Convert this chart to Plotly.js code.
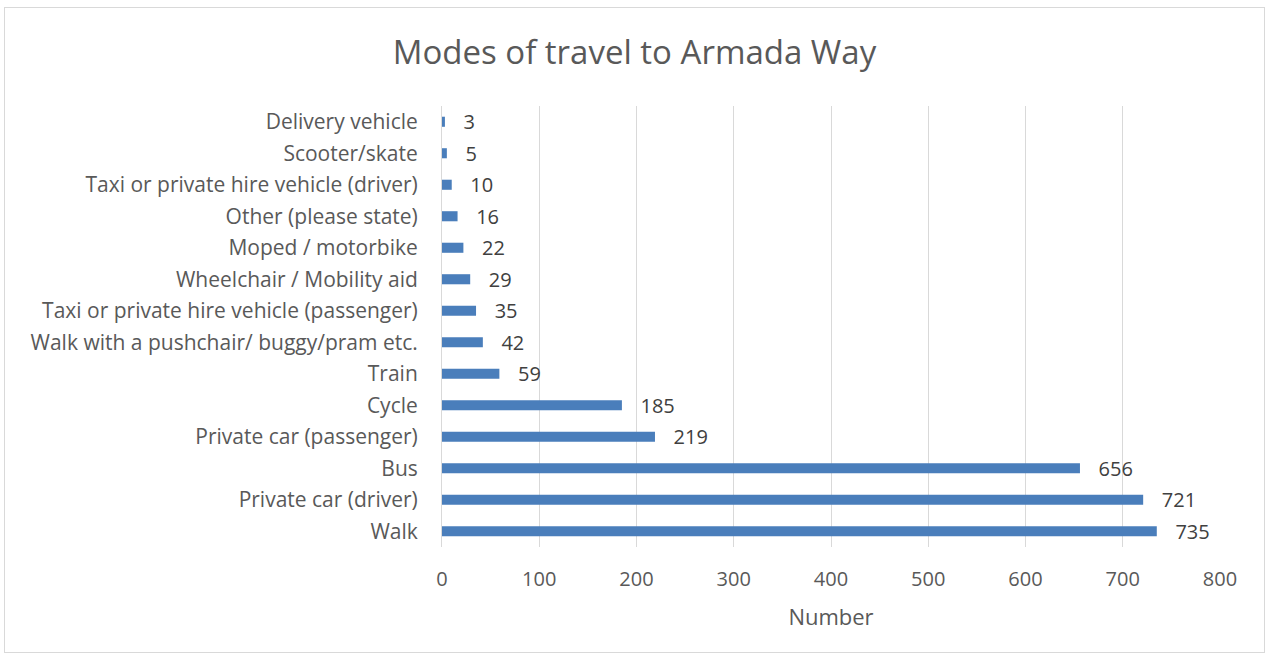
<!DOCTYPE html>
<html>
<head>
<meta charset="utf-8">
<script src="https://cdn.plot.ly/plotly-3.0.1.min.js"></script>
<style>
html,body{margin:0;padding:0;background:#fff;}
#frame{position:absolute;left:4px;top:7px;width:1261px;height:646px;border:1px solid #d9d9d9;box-sizing:border-box;}
#chart{position:absolute;left:0;top:0;width:1269px;height:656px;}
</style>
</head>
<body>
<div id="frame"></div>
<div id="chart"></div>
<script>
const categories = ["Walk","Private car (driver)","Bus","Private car (passenger)","Cycle","Train","Walk with a pushchair/ buggy/pram etc.","Taxi or private hire vehicle (passenger)","Wheelchair / Mobility aid","Moped / motorbike","Other (please state)","Taxi or private hire vehicle (driver)","Scooter/skate","Delivery vehicle"];
const values = [735,721,656,219,185,59,42,35,29,22,16,10,5,3];
const titleText = "Modes of travel to Armada Way";
const xTitle = "Number";

const font = "'Open Sans', sans-serif";
Plotly.newPlot('chart', [{
  type: 'bar',
  orientation: 'h',
  y: categories,
  x: values,
  texttemplate: '\u00a0\u00a0\u00a0%{x}',
  textposition: 'outside',
  constraintext: 'none',
  cliponaxis: false,
  textfont: {family: font, size: 20, color: '#404040'},
  marker: {color: '#4a7ebb'},
  hoverinfo: 'x+y'
}], {
  width: 1269, height: 656,
  paper_bgcolor: 'rgba(0,0,0,0)',
  plot_bgcolor: 'rgba(0,0,0,0)',
  margin: {l: 442, r: 49, t: 106, b: 109},
  bargap: 0.68,
  showlegend: false,
  title: {text: titleText, font: {family: font, size: 33, color: '#595959'}, x: 0.5, xanchor: 'center', y: 0.92, yanchor: 'middle'},
  xaxis: {
    range: [0, 800], dtick: 100,
    showgrid: true, gridcolor: '#d9d9d9', gridwidth: 1,
    zeroline: false, showline: false,
    ticks: '', ticklabelstandoff: 18,
    tickfont: {family: font, size: 20, color: '#595959'},
    title: {text: xTitle, font: {family: font, size: 22, color: '#595959'}, standoff: 18}
  },
  yaxis: {
    type: 'category',
    showgrid: false, zeroline: false,
    showline: true, linecolor: '#d9d9d9', linewidth: 1,
    ticks: '', ticklabelstandoff: 19,
    tickfont: {family: font, size: 21, color: '#595959'}
  }
}, {displayModeBar: false, staticPlot: true});
</script>
</body>
</html>
